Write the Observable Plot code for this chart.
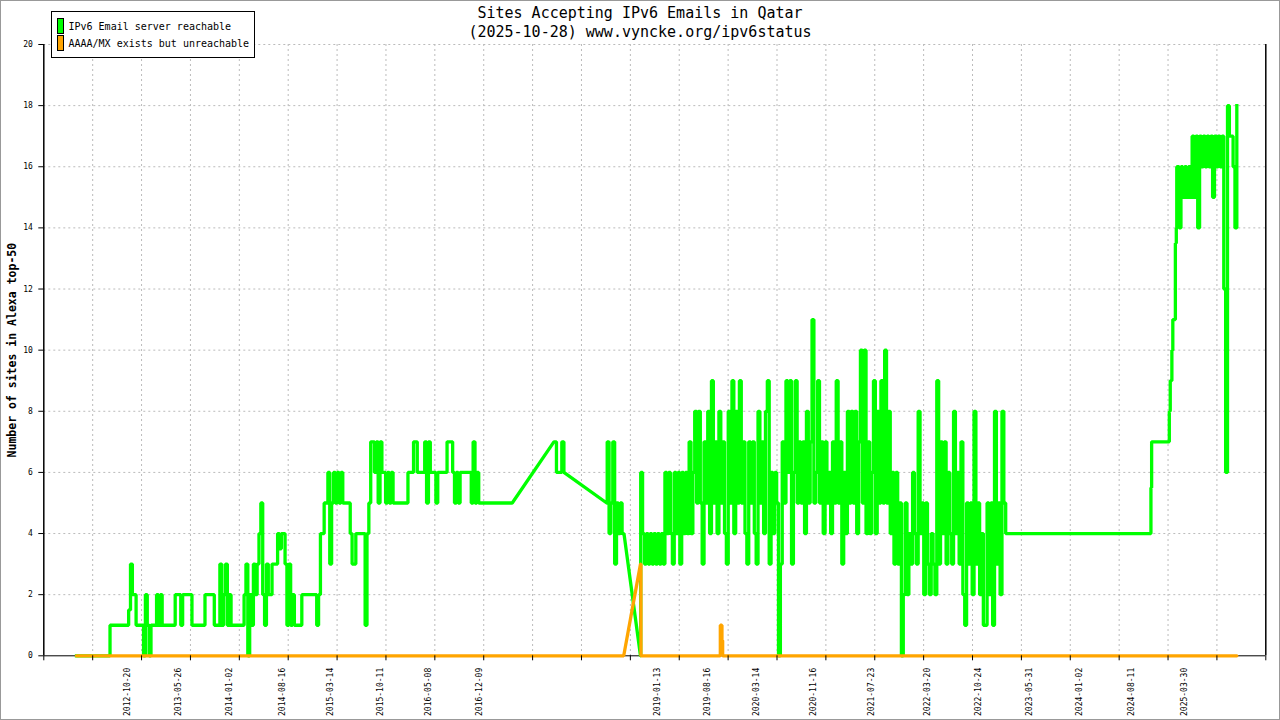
<!DOCTYPE html>
<html><head><meta charset="utf-8">
<script src="https://cdn.jsdelivr.net/npm/d3@7"></script>
<script src="https://cdn.jsdelivr.net/npm/@observablehq/plot@0.6"></script>
<style>
html,body{margin:0;padding:0;background:#fff;}
#wrap{position:relative;width:1280px;height:720px;overflow:hidden;font-family:"DejaVu Sans Mono",monospace;color:#000;}
#frame{position:absolute;left:0;top:0;width:1280px;height:720px;box-sizing:border-box;border:1px solid #999;pointer-events:none;}
.title{position:absolute;left:0;width:1280px;text-align:center;font-size:15px;line-height:19px;white-space:nowrap;}
#legend{position:absolute;left:50.5px;top:10.5px;width:204px;height:47px;border:1px solid #000;box-sizing:border-box;background:#fff;}
.sw{position:absolute;left:5px;width:7px;height:16px;border:1px solid #000;box-sizing:border-box;}
.lt{position:absolute;left:17px;font-size:10px;line-height:12px;white-space:nowrap;}
#chart svg{display:block;}
</style></head>
<body>
<div id="wrap">
  <div id="chart"></div>
  <div class="title" style="top:4px">Sites Accepting IPv6 Emails in Qatar</div>
  <div class="title" style="top:23px">(2025-10-28) www.vyncke.org/ipv6status</div>
  <div id="legend">
    <div class="sw" style="top:6px;background:#00ff00"></div>
    <div class="lt" style="top:9px">IPv6 Email server reachable</div>
    <div class="sw" style="top:23px;background:#ffa500"></div>
    <div class="lt" style="top:26px">AAAA/MX exists but unreachable</div>
  </div>
  <div id="frame"></div>
</div>
<script>
// ---------- data ----------
const STEP_DAYS = 8; // sampling step of the dense blocks

// 2012-03 .. 2017-04 (sampled every 8 days)
const greenAStart = "2012-03-05";
const greenA = [
  0,0,0,0,0,0,0,0,0,0,
  0,0,0,0,0,0,0,0,1,1,
  1,1,1,1,1,1,1,1,1.5,3,
  2,2,1,1,1,1,0,2,1,0,
  1,1,1,2,1,2,1,1,1,1,
  1,1,1,2,2,2,1,2,2,2,
  2,2,1,1,1,1,1,1,1,2,
  2,2,2,2,1,1,1,3,1,2,
  3,1,2,1,1,1,1,1,1,1,
  2,3,0,2,1,3,2,3,4,5,
  2,1,3,2,2,3,3,3,4,3.5,
  4,4,3,1,3,1,2,1,1,1,
  1,2,2,2,2,2,2,2,2,1,
  2,4,4,5,5,6,3,5,6,5,
  6,5,6,5,5,5,5,4,3,3,
  4,4,4,4,4,1,4,5,7,7,
  6,7,5,7,6,6,5,6,5,6,
  5,5,5,5,5,5,5,5,6,6,
  6,7,7,6,6,6,6,7,5,7,
  6,6,6,5,6,6,6,6,6,7,
  7,7,6,5,6,5,6,6,6,6,
  6,6,5,7,5,6,5,5,5,5,
  5,5,5,5,5,5,5,5,5,5,
  5,5,5,5,5
];

// sparse measurements across the 2017-2018 gap
const greenGap = [
  ["2017-10-16",7],["2017-10-24",7],["2017-10-27",6],["2017-11-17",6],
  ["2017-11-19",7],["2017-11-25",7],["2017-11-28",6],["2018-05-31",5]
];

const greenBStart = "2018-06-02";
const greenB = [7,4,5,7,3,5,4,5,4,4];

const greenGlitch = [["2018-10-23",0]];

// 2018-10 .. 2023-02 (sampled every 8 days)
const greenCStart = "2018-10-24";
const greenC = [
  6,4,3,4,3,4,3,4,3,4,
  3,4,3,6,4,6,4,3,6,4,
  6,3,6,4,6,4,7,4,6,8,
  5,8,5,3,7,5,8,4,9,5,
  7,4,8,5,7,4,3,8,5,9,
  4,8,5,9,5,7,4,3,7,5,
  7,4,3,8,5,7,4,8,9,3,
  6,4,6,5,0,3,7,5,9,6,
  9,3,6,9,5,7,5,7,4,8,
  5,7,11,5,6,9,5,7,4,7,
  5,6,4,7,5,9,5,7,3,6,
  4,8,5,8,5,8,4,7,10,5,
  10,4,7,4,6,9,4,8,5,9,
  5,10,5,8,4,6,3,6,3,5,
  0,2,5,2,4,3,6,4,3,8,
  4,5,2,5,3,2,4,3,2,9,
  3,7,4,7,3,6,4,3,8,4,
  6,3,7,2,1,5,3,5,2,8,
  3,5,2,4,1,1,5,2,5,1,
  8,3,5,2,8,5,4
];

const greenRise = [
  ["2024-10-22",4],["2024-10-24",5.5],["2024-10-27",7],["2025-01-08",7],
  ["2025-01-11",8],["2025-01-15",9],["2025-01-22",10],["2025-01-26",11],
  ["2025-02-03",11],["2025-02-06",13.5],["2025-02-10",14],["2025-02-12",16]
];

// 2025-02 .. 2025-10 (sampled every 8 days)
const greenDStart = "2025-02-14";
const greenD = [
  16,14,16,15,16,15,16,15,17,15,
  17,14,17,16,17,16,17,16,17,15,
  17,16,17,16,17,12,6,18,17,17,
  16,14,18
];

const orangePts = [
  ["2012-03-05",0],["2018-08-12",0],["2018-10-23",3],["2018-10-25",0],
  ["2019-09-30",0],["2019-10-01",1],["2019-10-07",1],["2019-10-08",0.5],
  ["2019-10-10",0.5],["2019-10-11",0],["2025-10-28",0]
];

const xLabelDates = ["2012-10-20","2013-05-26","2014-01-02","2014-08-16","2015-03-14",
  "2015-10-11","2016-05-08","2016-12-09","2019-01-13","2019-08-16","2020-03-14",
  "2020-11-16","2021-07-23","2022-03-20","2022-10-24","2023-05-31","2024-01-02",
  "2024-08-11","2025-03-30"];
const yTicks = [0,2,4,6,8,10,12,14,16,18,20];
const xAxisStart = "2011-10-16T12:00:00Z";
const xTickIntervalDays = 210;
const xTickCount = 26;

// ---------- build ----------
const DAY = 864e5;
const parse = s => new Date(s.length > 10 ? s : s + "T00:00:00Z");
const block = (start, vals) => { const t0 = +parse(start); return vals.map((v,i) => ({date: new Date(t0 + i*STEP_DAYS*DAY), value: v})); };
const pts = arr => arr.map(([d,v]) => ({date: parse(d), value: v}));

// consecutive measurements are held until the next one (step);
// long gaps without measurements are bridged linearly, as in the original.
function stepPath(series) {
  const out = [];
  for (let i = 0; i < series.length; i++) {
    const a = series[i], b = series[i+1];
    out.push(a);
    if (b && (b.date - a.date) <= 20*DAY && b.value !== a.value) out.push({date: b.date, value: a.value});
  }
  return out;
}

const green = stepPath([
  ...block(greenAStart, greenA), ...pts(greenGap), ...block(greenBStart, greenB),
  ...pts(greenGlitch), ...block(greenCStart, greenC), ...pts(greenRise), ...block(greenDStart, greenD)
].sort((a,b) => a.date - b.date));
const orange = stepPath(pts(orangePts));

const t0 = +parse(xAxisStart);
const xTicks = d3.range(xTickCount).map(k => new Date(t0 + k*xTickIntervalDays*DAY));
const xStart = xTicks[0], xEnd = xTicks[xTicks.length-1];

const chart = Plot.plot({
  width: 1280, height: 720,
  marginLeft: 43.3, marginRight: 14.7, marginTop: 44, marginBottom: 64.7,
  style: {fontFamily: "DejaVu Sans Mono, monospace", background: "white", color: "#000"},
  x: {type: "utc", domain: [xStart, xEnd]},
  y: {domain: [0, 20]},
  marks: [
    Plot.ruleY(yTicks.filter(v => v > 0), {stroke: "#bbb", strokeDasharray: "2,3"}),
    Plot.ruleX(xTicks.slice(1, -1), {stroke: "#bbb", strokeDasharray: "2,3"}),
    Plot.ruleY([0], {stroke: "#000"}),
    Plot.ruleX([xStart, xEnd], {stroke: "#000", strokeWidth: 1.5}),
    Plot.line(green, {x: "date", y: "value", stroke: "#00ff00", strokeWidth: 3.3, strokeLinejoin: "miter", strokeLinecap: "square"}),
    Plot.line(orange, {x: "date", y: "value", stroke: "#ffa500", strokeWidth: 3.3, strokeLinejoin: "miter"}),
    Plot.axisY({ticks: yTicks, tickSize: 5, tickPadding: 6, fontSize: 8, label: null}),
    Plot.axisX({ticks: xTicks, tickSize: 5, tickFormat: () => "", label: null}),
    Plot.text(xLabelDates.map(parse), {x: d => d, text: d => d3.utcFormat("%Y-%m-%d")(d),
      frameAnchor: "bottom", rotate: -90, textAnchor: "end", dy: 12, fontSize: 8}),
    Plot.text(["Number of sites in Alexa top-50"], {text: d => d, frameAnchor: "left",
      rotate: -90, textAnchor: "middle", dx: -31, fontSize: 11.5, fontWeight: "bold"})
  ]
});
document.getElementById("chart").appendChild(chart);
</script>
</body></html>
